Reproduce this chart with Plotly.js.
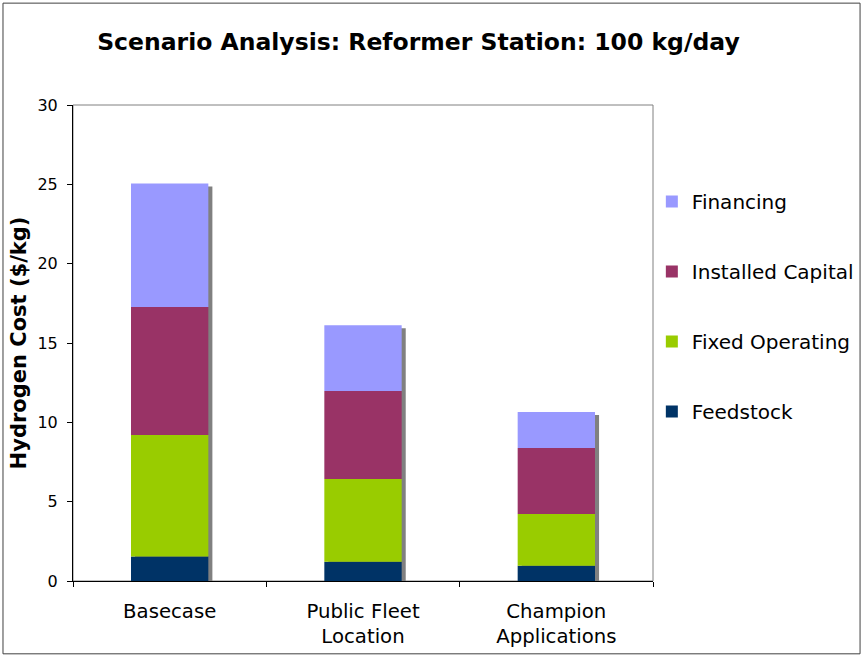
<!DOCTYPE html>
<html>
<head>
<meta charset="utf-8">
<script src="https://cdn.plot.ly/plotly-3.0.1.min.js"></script>
<style>html,body{margin:0;padding:0;background:#fff;}#chart{width:862px;height:656px;}</style>
</head>
<body>
<div id="chart"></div>
<script>
const categories = ['Basecase', 'Public Fleet<br>Location', 'Champion<br>Applications'];
const feedstock = [1.55, 1.21, 0.96];
const fixedOperating = [7.65, 5.22, 3.27];
const installedCapital = [8.07, 5.54, 4.15];
const financing = [7.78, 4.15, 2.27];
const yTicks = [0, 5, 10, 15, 20, 25, 30];

const seriesNames = ['Feedstock', 'Fixed Operating', 'Installed Capital', 'Financing'];
const seriesValues = [feedstock, fixedOperating, installedCapital, financing];
const seriesColors = ['#003366', '#99CC00', '#993366', '#9999FF'];

const barWidth = 0.4;
const font = 'DejaVu Sans, Verdana, sans-serif';

// cumulative bases
const bases = [];
let run = categories.map(() => 0);
seriesValues.forEach(v => { bases.push(run.slice()); run = run.map((r, i) => r + v[i]); });
const totals = run;

const traces = [];
// shadow
traces.push({
  type: 'bar', x: categories, y: totals, base: categories.map(() => -0.19),
  width: barWidth, offset: -barWidth / 2 + 0.021,
  marker: {color: '#808080', line: {width: 0}},
  showlegend: false, hoverinfo: 'skip'
});
seriesValues.forEach((v, k) => {
  traces.push({
    type: 'bar', name: seriesNames[k], x: categories, y: v, base: bases[k],
    width: barWidth, offset: -barWidth / 2,
    marker: {color: seriesColors[k], line: {width: 0}},
    legendgroup: 'g' + k, legendrank: seriesNames.length - k
  });
});

const layout = {
  width: 862, height: 656,
  paper_bgcolor: '#ffffff', plot_bgcolor: '#ffffff',
  barmode: 'overlay',
  margin: {l: 73, r: 209, t: 105, b: 75, pad: 0, autoexpand: false},
  font: {family: font, color: '#000', size: 16},
  title: {
    text: '<b>Scenario Analysis: Reformer Station: 100 kg/day</b>',
    font: {family: font, size: 23.5, color: '#000'},
    x: 0.4855, xanchor: 'center', xref: 'container',
    y: 0.936, yanchor: 'middle', yref: 'container'
  },
  xaxis: {
    type: 'category', showline: true, linecolor: '#000', linewidth: 1,
    ticks: 'outside', tickson: 'boundaries', ticklen: 5, tickcolor: '#000',
    ticklabelstandoff: 12,
    showgrid: false, zeroline: false,
    tickfont: {family: font, size: 19.7, color: '#000'},
    fixedrange: true
  },
  yaxis: {
    range: [0, 30], tickvals: yTicks, ticktext: yTicks.map(String),
    showline: true, linecolor: '#000', linewidth: 1,
    ticks: 'outside', ticklen: 5, tickcolor: '#000',
    ticklabelstandoff: 6,
    showgrid: false, zeroline: false,
    tickfont: {family: font, size: 16, color: '#000'},
    title: {text: '<b>Hydrogen Cost ($/kg)</b>', font: {family: font, size: 21, color: '#000'}, standoff: 5}
  },
  legend: {
    x: 0.998, xanchor: 'left', y: 0.838, yanchor: 'top',
    traceorder: 'grouped', tracegroupgap: 41,
    font: {family: font, size: 20, color: '#000'},
    bgcolor: 'rgba(0,0,0,0)', borderwidth: 0
  },
  shapes: [
    {type: 'rect', xref: 'paper', yref: 'paper', x0: 0, x1: 1, y0: 0, y1: 1,
     line: {color: '#808080', width: 1}, layer: 'below'},
    {type: 'rect', xref: 'paper', yref: 'paper', x0: -0.1207, x1: 1.357, y0: -0.153, y1: 1.214,
     line: {color: '#404040', width: 1}, layer: 'below'}
  ],
  showlegend: true
};

Plotly.newPlot('chart', traces, layout, {displayModeBar: false, staticPlot: true});
</script>
</body>
</html>
